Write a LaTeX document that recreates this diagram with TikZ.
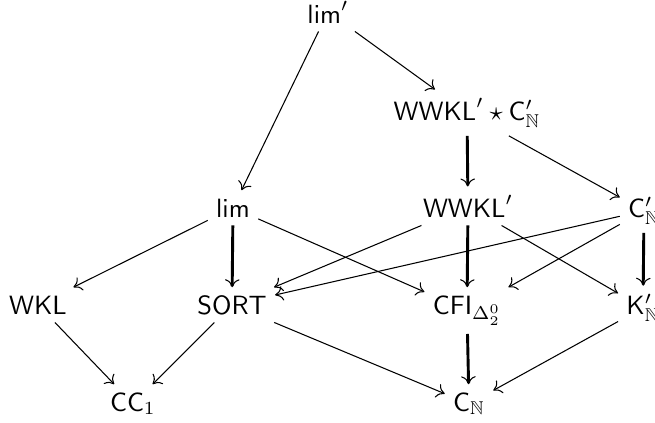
\documentclass[tikz,border=0pt]{standalone}
\usepackage{amsmath,amssymb}
\usepackage{tikz}
\usetikzlibrary{arrows.meta}
\tikzstyle{problem}=[anchor=base,inner sep=3pt]
\tikzstyle{edge} = [draw,-{To[length=3pt,width=5.5pt]}]
\tikzstyle{strong edge} = [draw,line width=1.1pt,-{To[line width=0.4pt,length=3pt,width=5.5pt]}]

\begin{document}
\begin{tikzpicture}[x=1.33mm,y=1.33mm]
    \useasboundingbox (0,0) rectangle (65.5,42.2);
    % First we draw the problems
    \foreach \pos/\name/\text in {{(32.8,39.9)/limp/\mathsf{lim}'},
        {(46.7,30.2)/wwklc/\mathsf{WWKL}'\star\mathsf{C}'_{\mathbb{N}}},
        {(23.3,20.5)/lim/\mathsf{lim}}, {(46.8,20.5)/wwkl/\mathsf{WWKL}'}, {(64.4,20.5)/cnp/\mathsf{C}'_{\mathbb{N}}},
        {(3.8,10.8)/wkl/\mathsf{WKL}}, {(23.2,10.8)/sort/\mathsf{SORT}}, {(46.7,10.8)/cfi/\mathsf{CFI}_{\Delta^0_2}}, {(64.3,10.8)/knp/\mathsf{K}'_{\mathbb{N}}},
        {(13.3,1.1)/cc/\mathsf{CC}_1}, {(46.9,1.1)/cn/\mathsf{C}_{\mathbb{N}}}}
        \node[problem] (\name) at \pos {$\text$};

    % Reductions between them
    \foreach \source/\dest in {limp/lim, limp/wwklc, wwklc/cnp, lim/wkl, lim/cfi, wwkl/sort, wwkl/knp, cnp/sort, cnp/cfi, wkl/cc, sort/cc, sort/cn, knp/cn}
        \path[edge] (\source) -- (\dest);

    % Strong reductions
    \foreach \source/\dest in {wwklc/wwkl, lim/sort, wwkl/cfi, cnp/knp, cfi/cn}
        \path[strong edge] (\source) -- (\dest);
\end{tikzpicture}
\end{document}
